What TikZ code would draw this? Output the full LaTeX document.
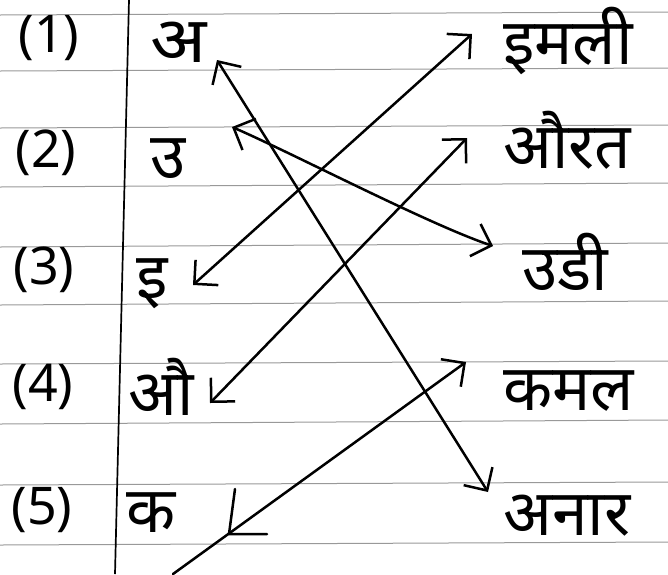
\documentclass[tikz,border=0pt]{standalone}
\usepackage{fontspec}
\newfontfamily\dev[Script=Devanagari]{Noto Sans}
\usetikzlibrary{arrows.meta,calc}
\begin{document}
\begin{tikzpicture}[x=1pt,y=-1pt,
  rule/.style={draw=black!40, line width=1pt},
  margin/.style={draw=black, line width=1.7pt},
  hand/.style={font=\dev\fontsize{64}{70}\selectfont, inner sep=0pt, anchor=base west},
  num/.style={font=\dev\fontsize{52}{58}\selectfont, inner sep=0pt, anchor=center},
  link/.style={draw=black, line width=2.5pt, line cap=round, line join=round},
  hd/.tip={Straight Barb[angle=90:24pt, line width=2.5pt]}
]
\useasboundingbox (0,0) rectangle (668,574);
\fill[white] (0,0) rectangle (668,574);
% ruled lines
\foreach \a/\b in {15/12, 71/68, 128/125, 187/183, 247/243, 305/301, 364/361, 424/420, 485/482, 545/542}
  \draw[rule] (0,\a) -- (668,\b);
% margin
\draw[margin] (129,0) -- (115,574);
% numbers
\node[num] (n1) at (49,38) {(1)};
\node[num] (n2) at (46,153) {(2)};
\node[num] (n3) at (44,270) {(3)};
\node[num] (n4) at (43,387) {(4)};
\node[num] (n5) at (42,510) {(5)};
% left letters
\node[hand, xscale=1.15] (l1) at (150,62) {अ};
\node[hand] (l2) at (150,178) {उ};
\node[hand] (l3) at (136,298) {इ};
\node[hand] (l4) at (128,415) {औ};
\node[hand] (l5) at (126,532) {क};
% right words
\node[hand] (r1) at (503,64) {इमली};
\node[hand] (r2) at (503,168) {औरत};
\node[hand] (r3) at (522,290) {उडी};
\node[hand] (r4) at (503,410) {कमल};
\node[hand] (r5) at (503,535) {अनार};
% arrow ends
\coordinate (a1) at (217,60);
\coordinate (b1) at (488,492);
\coordinate (a2) at (232,127);
\coordinate (b2) at (493,246);
\coordinate (a3) at (193,285);
\coordinate (b3) at (472,34);
\coordinate (a4) at (210,403);
\coordinate (b4) at (467,138);
\coordinate (a5) at (173,574);
\coordinate (b5) at (466,362);
\coordinate (k5) at (229,534);
% connectors
\draw[link, hd-hd] (a1) -- (b1);
\draw[link, hd-hd] (a2) .. controls (290,152) and (430,225) .. (b2);
\draw[link, hd-hd] (a3) -- (b3);
\draw[link, hd-hd] (a4) -- (b4);
\draw[link, -hd] (a5) -- (b5);
\draw[link] ($(k5)+(6,-45)$) -- (k5) -- ($(k5)+(38,0)$);
\end{tikzpicture}
\end{document}
